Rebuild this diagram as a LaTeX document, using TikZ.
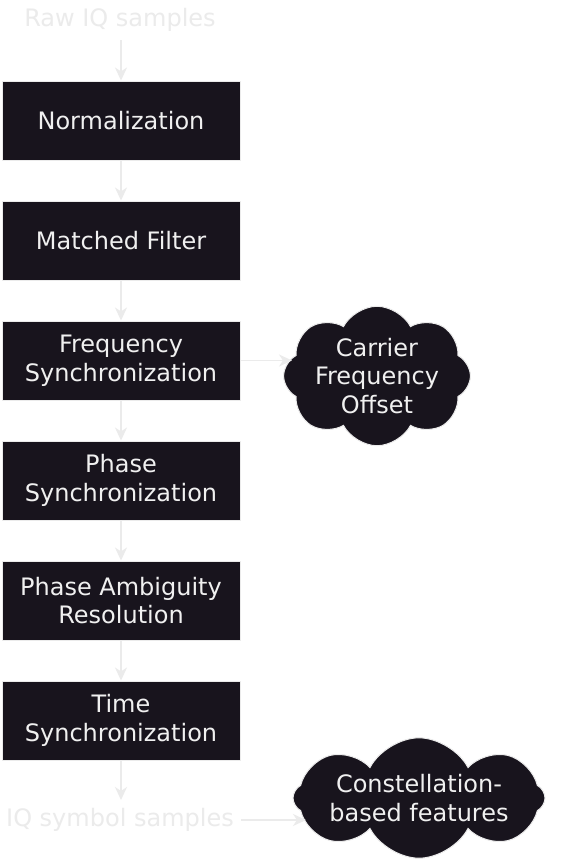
\documentclass[tikz,border=0pt]{standalone}
\usepackage{fontspec}
\setmainfont{DejaVu Sans}
\usetikzlibrary{shapes.symbols,arrows.meta}
\definecolor{boxfill}{HTML}{18141D}
\definecolor{lite}{HTML}{F0F0F0}
\definecolor{edge}{HTML}{EBEBEB}
\tikzset{
  stepbox/.style={draw=edge, line width=1pt, fill=boxfill, text=lite, minimum width=238pt, minimum height=79pt, inner sep=0pt, align=center, font=\fontsize{24}{28.5}\selectfont},
  plain/.style={text=edge, inner sep=0pt, font=\fontsize{24}{28.5}\selectfont},
  puff/.style={cloud, cloud puffs=8, cloud puff arc=125, cloud ignores aspect, draw=edge, line width=1pt, fill=boxfill, text=lite, inner sep=0pt, align=center, font=\fontsize{24}{28.5}\selectfont},
  conn/.style={draw=edge, line width=1.5pt, -{Stealth[length=13pt,width=12pt,inset=4pt]}}
}
\begin{document}
\begin{tikzpicture}[x=1pt,y=-1pt]
\fill[white] (0,0) rectangle (560,862);
\useasboundingbox (0,0) rectangle (560,862);
\node[plain] (raw) at (120,20) {Raw IQ samples};
\node[stepbox] (b1) at (121,120.5) {Normalization};
\node[stepbox] (b2) at (121,240.5) {Matched Filter};
\node[stepbox] (b3) at (121,360.5) {Frequency\\Synchronization};
\node[stepbox] (b4) at (121,480.5) {Phase\\Synchronization};
\node[stepbox] (b5) at (121,600.5) {Phase Ambiguity\\Resolution};
\node[stepbox] (b6) at (121,720.5) {Time\\Synchronization};
\node[plain] (iq) at (120,820) {IQ symbol samples};
\node[puff, minimum width=180pt, minimum height=115pt] (c1) at (377,376) {Carrier\\Frequency\\Offset};
\node[puff, minimum width=252pt, minimum height=100pt] (c2) at (419,798) {Constellation-\\based features};
\coordinate (t1) at (121,40);
\draw[conn] (t1) -- (b1.north);
\draw[conn] (b1.south) -- (b2.north);
\draw[conn] (b2.south) -- (b3.north);
\draw[conn] (b3.south) -- (b4.north);
\draw[conn] (b4.south) -- (b5.north);
\draw[conn] (b5.south) -- (b6.north);
\coordinate (t2) at (121,800);
\draw[conn] (b6.south) -- (t2);
\coordinate (e1) at (292,360.5);
\draw[conn] (b3.east) -- (e1);
\coordinate (s2) at (241,820);
\coordinate (e2) at (306,820);
\draw[conn] (s2) -- (e2);
\end{tikzpicture}
\end{document}
